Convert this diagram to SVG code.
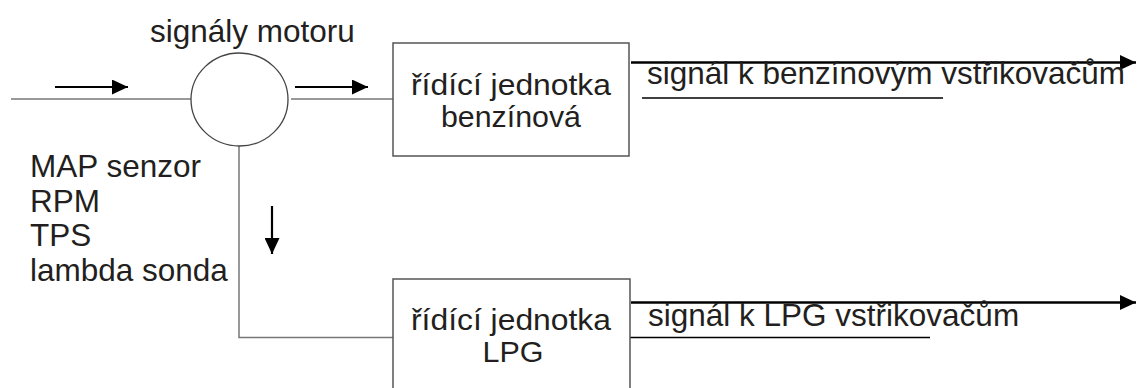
<svg xmlns="http://www.w3.org/2000/svg" width="1138" height="388" viewBox="0 0 1138 388">
<defs>
<style>
text{font-family:"Liberation Sans",Arial,sans-serif;font-size:31.5px;fill:#231f20}
.mid{text-anchor:middle}
.bt{font-size:29.5px}
.box{fill:#fff;stroke:#555;stroke-width:1.5}
.wire{fill:none;stroke:#777;stroke-width:1.5}
.arr{fill:none;stroke:#000;stroke-width:2.2;marker-end:url(#ah)}
.big{fill:none;stroke:#000;stroke-width:2.6;marker-end:url(#ah)}
.ul{fill:none;stroke:#000;stroke-width:1.5}
</style>
<marker id="ah" viewBox="0 0 16 15" refX="16" refY="7.5" markerWidth="16" markerHeight="15" markerUnits="userSpaceOnUse" orient="auto">
<path d="M0,0 L16,7.5 L0,15 z" fill="#000"/>
</marker>
</defs>
<rect width="1138" height="388" fill="#fff"/>
<g id="connectors">
<path class="wire" d="M11,99 H191"/>
<path class="wire" d="M291,99 H393"/>
<path class="wire" d="M239,146 V337.5 H393"/>
<path class="arr" d="M55,87 H128"/>
<path class="arr" d="M295,87 H368"/>
<path class="arr" d="M272,206 V254"/>
<path class="big" d="M631,62.5 H1136"/>
<path class="big" d="M631,302.5 H1136"/>
<path class="ul" d="M642,98 H943"/>
<path class="ul" d="M629,337.5 H930"/>
</g>
<g id="node-signaly">
<ellipse cx="239.5" cy="99.5" rx="48.5" ry="46.5" fill="#fff" stroke="#444" stroke-width="1.3"/>
<text x="150" y="42">signály motoru</text>
</g>
<g id="node-sensors">
<text x="30" y="177">MAP senzor</text>
<text x="30" y="211.5">RPM</text>
<text x="30" y="246">TPS</text>
<text x="30" y="280.5">lambda sonda</text>
</g>
<g id="node-benzin">
<rect class="box" x="393" y="43" width="236" height="113"/>
<text class="mid bt" x="511" y="94.5" textLength="200" lengthAdjust="spacingAndGlyphs">řídící jednotka</text>
<text class="mid bt" x="511" y="126.5" textLength="140" lengthAdjust="spacingAndGlyphs">benzínová</text>
</g>
<g id="node-lpg">
<rect class="box" x="393" y="279" width="237" height="130"/>
<text class="mid bt" x="511" y="329.5" textLength="200" lengthAdjust="spacingAndGlyphs">řídící jednotka</text>
<text class="mid bt" x="513" y="362" textLength="61" lengthAdjust="spacingAndGlyphs">LPG</text>
</g>
<g id="label-benzin-out">
<text x="647" y="84">signál k benzínovým vstřikovačům</text>
</g>
<g id="label-lpg-out">
<text x="648" y="326">signál k LPG vstřikovačům</text>
</g>
</svg>
